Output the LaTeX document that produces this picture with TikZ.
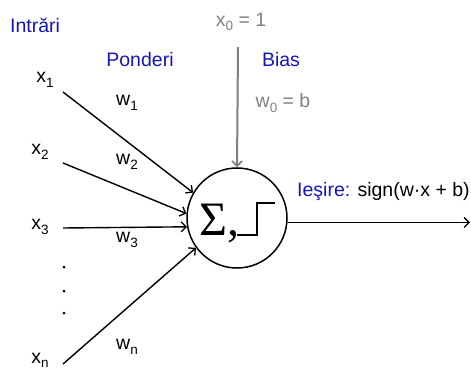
\documentclass[tikz,border=0pt]{standalone}
\usepackage{fontspec}
\setmainfont{Liberation Sans}
\newfontfamily\sigmafont{Liberation Serif}
\usetikzlibrary{arrows.meta}
\definecolor{lblblue}{RGB}{22,22,180}
\definecolor{lblgray}{RGB}{128,128,128}
\newcommand\sbs[1]{\raisebox{-0.45ex}{\fontsize{13.5}{13.5}\selectfont #1}}
\tikzset{
  txt/.style={inner sep=0pt, font=\fontsize{19.5}{20}\selectfont},
  bluetxt/.style={txt, text=lblblue},
  graytxt/.style={txt, text=lblgray},
  inarrow/.style={line width=1.4pt, -{Straight Barb[length=5pt,width=10pt,line width=1.3pt]}},
  grayarrow/.style={line width=2pt, draw=lblgray, -{Straight Barb[length=5pt,width=10pt,line width=1.8pt]}},
  neuron/.style={circle, draw, line width=1.5pt, minimum size=100pt, inner sep=0pt},
  dotmark/.style={circle, fill, inner sep=0pt, minimum size=3pt},
}
\begin{document}
\begin{tikzpicture}[x=1pt,y=1pt]
\useasboundingbox (0,0) rectangle (471,370);
% headings
\node[bluetxt, anchor=west] (intrari) at (10,345) {Intrări};
\node[bluetxt] (ponderi) at (140,310) {Ponderi};
\node[bluetxt] (bias) at (281,310) {Bias};
\node[graytxt] (x0) at (241,348) {x\sbs{0} = 1};
\node[graytxt] (w0) at (283,267) {w\sbs{0} = b};
% neuron
\node[neuron] (n) at (237,152) {};
\node[inner sep=0pt, anchor=base west, font=\sigmafont\fontsize{48}{48}\selectfont] (sig) at (199,135) {Σ,};
\draw[line width=1.5pt] (237,135) -- (257,135) -- (257,167) -- (275,167);
% inputs
\node[txt] (x1) at (45,290) {x\sbs{1}};
\node[txt] (x2) at (40,218) {x\sbs{2}};
\node[txt] (x3) at (40,143) {x\sbs{3}};
\node[txt] (xn) at (40,9.5) {x\sbs{n}};
\coordinate (s1) at (63,278);
\coordinate (s2) at (63,207);
\coordinate (s3) at (63,142);
\coordinate (sn) at (63,6);
\node[dotmark] (d1) at (64,103) {};
\node[dotmark] (d2) at (64,79) {};
\node[dotmark] (d3) at (64,57) {};
% weights
\node[txt] (w1) at (127,267) {w\sbs{1}};
\node[txt] (w2) at (127,208) {w\sbs{2}};
\node[txt] (w3) at (127,130) {w\sbs{3}};
\node[txt] (wn) at (127,23) {w\sbs{n}};
% arrows
\draw[inarrow] (s1) -- (n.150);
\draw[inarrow] (s2) -- (n.175);
\draw[inarrow] (s3) -- (n.190);
\draw[inarrow] (sn) -- (n.216);
\coordinate (b0) at (238,323);
\draw[grayarrow] (b0) -- (n.north);
% output
\node[txt, anchor=west] (out) at (297,178) {\textcolor{lblblue}{Ieşire:} sign(w·x + b)};
\coordinate (oend) at (470,148);
\draw[inarrow] (n.-5) -- (n.-5 -| oend);
\end{tikzpicture}
\end{document}
